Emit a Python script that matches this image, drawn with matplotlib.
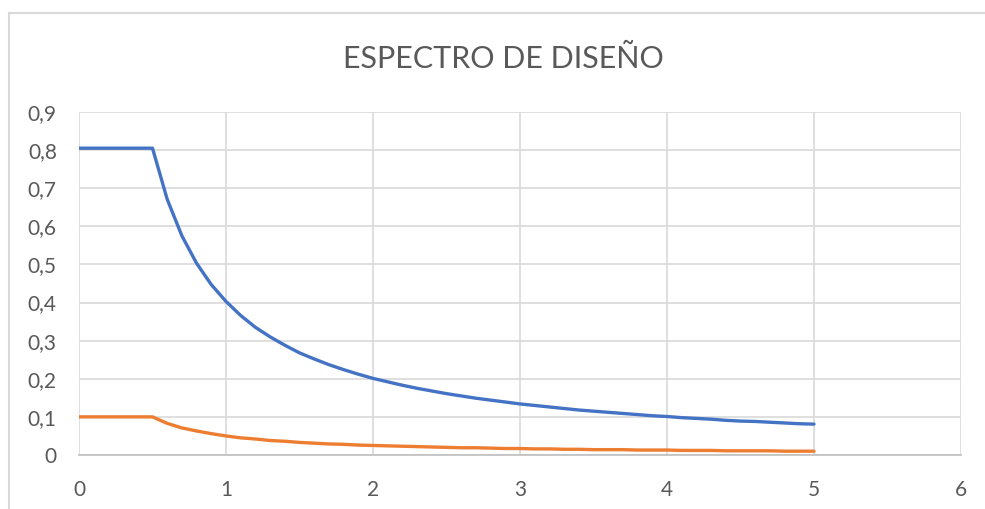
import matplotlib
matplotlib.use("Agg")
import matplotlib.pyplot as plt
from matplotlib.lines import Line2D
from matplotlib.ticker import FuncFormatter, MultipleLocator

# Periodo T (s)
periodos = [0.0, 0.1, 0.2, 0.3, 0.4, 0.5, 0.6, 0.7, 0.8, 0.9,
            1.0, 1.1, 1.2, 1.3, 1.4, 1.5, 1.6, 1.7, 1.8, 1.9,
            2.0, 2.1, 2.2, 2.3, 2.4, 2.5, 2.6, 2.7, 2.8, 2.9,
            3.0, 3.1, 3.2, 3.3, 3.4, 3.5, 3.6, 3.7, 3.8, 3.9,
            4.0, 4.1, 4.2, 4.3, 4.4, 4.5, 4.6, 4.7, 4.8, 4.9, 5.0]

# Espectro elastico
sa_elastico = [0.805, 0.805, 0.805, 0.805, 0.805, 0.805, 0.671, 0.575, 0.503, 0.447,
               0.403, 0.366, 0.335, 0.310, 0.288, 0.268, 0.252, 0.237, 0.224, 0.212,
               0.201, 0.192, 0.183, 0.175, 0.168, 0.161, 0.155, 0.149, 0.144, 0.139,
               0.134, 0.130, 0.126, 0.122, 0.118, 0.115, 0.112, 0.109, 0.106, 0.103,
               0.101, 0.098, 0.096, 0.094, 0.091, 0.089, 0.088, 0.086, 0.084, 0.082, 0.081]

# Espectro inelastico (reducido)
sa_inelastico = [0.100, 0.100, 0.100, 0.100, 0.100, 0.100, 0.083, 0.071, 0.063, 0.056,
                 0.050, 0.045, 0.042, 0.038, 0.036, 0.033, 0.031, 0.029, 0.028, 0.026,
                 0.025, 0.024, 0.023, 0.022, 0.021, 0.020, 0.019, 0.019, 0.018, 0.017,
                 0.017, 0.016, 0.016, 0.015, 0.015, 0.014, 0.014, 0.014, 0.013, 0.013,
                 0.013, 0.012, 0.012, 0.012, 0.011, 0.011, 0.011, 0.011, 0.010, 0.010, 0.010]

plt.rcParams['font.family'] = ['Lato', 'DejaVu Sans']

fig = plt.figure(figsize=(9.85, 5.09), dpi=100)
ax = fig.add_axes([0.0802, 0.1061, 0.8954, 0.6739])

ax.plot(periodos, sa_elastico, color='#4472C4', lw=2.4, solid_capstyle='round')
ax.plot(periodos, sa_inelastico, color='#ED7D31', lw=2.4, solid_capstyle='round')

ax.set_xlim(0, 6)
ax.set_ylim(0, 0.9)
ax.xaxis.set_major_locator(MultipleLocator(1))
ax.yaxis.set_major_locator(MultipleLocator(0.1))

coma = FuncFormatter(lambda v, pos: ('%g' % round(v, 2)).replace('.', ','))
ax.xaxis.set_major_formatter(coma)
ax.yaxis.set_major_formatter(coma)

ax.grid(True, color='#d9d9d9', lw=1.2)
ax.set_axisbelow(True)
for lado in ['top', 'right', 'left']:
    ax.spines[lado].set_visible(False)
ax.spines['bottom'].set_color('#bfbfbf')
ax.spines['bottom'].set_linewidth(1.2)

ax.tick_params(axis='both', length=0, labelsize=15, labelcolor='#595959')
ax.tick_params(axis='x', pad=18)
ax.tick_params(axis='y', pad=16)

fig.text(0.511, 0.884, 'ESPECTRO DE DISEÑO', ha='center', va='center',
         fontsize=22, color='#595959')

# marco del grafico
fig.add_artist(Line2D([9 / 985, 9 / 985], [0, 1 - 13 / 509], color='#d9d9d9', lw=1.5))
fig.add_artist(Line2D([9 / 985, 984 / 985], [1 - 13 / 509, 1 - 13 / 509], color='#d9d9d9', lw=1.5))

fig.savefig('out.png', dpi=100, facecolor='white')
